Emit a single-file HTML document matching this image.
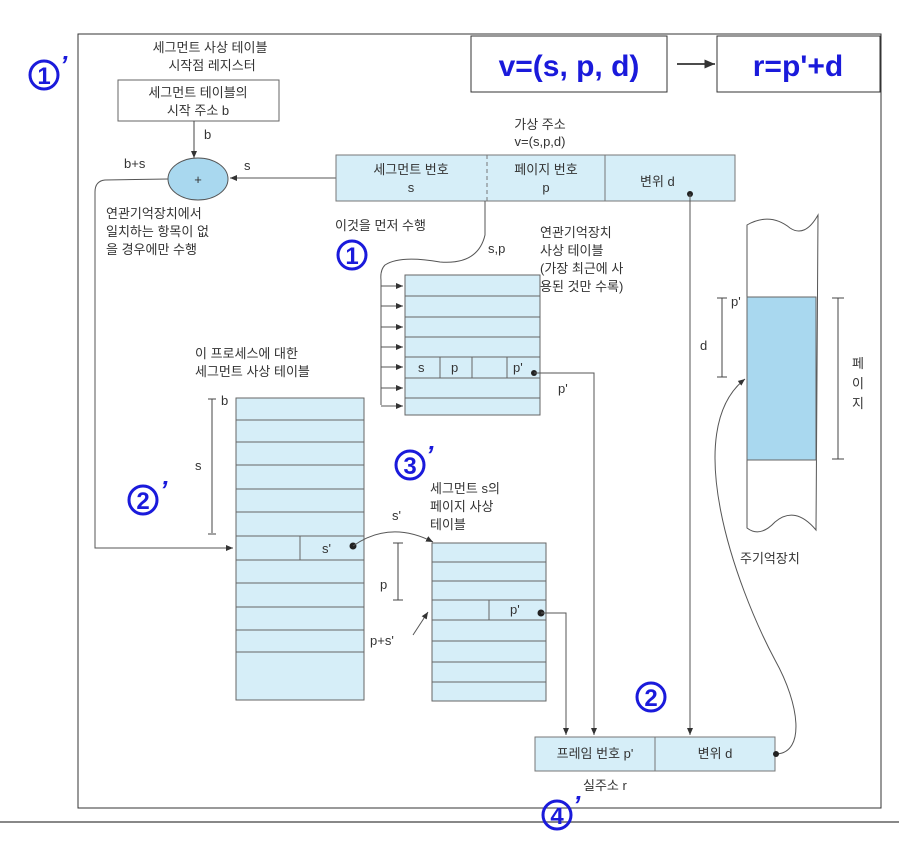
<!DOCTYPE html>
<html><head><meta charset="utf-8"><style>
body{margin:0;background:#fff}
svg{display:block}
text{font-family:"Liberation Sans","Noto Sans CJK KR",sans-serif;fill:#333;font-size:13px}
.b{fill:#1a1adb;font-weight:bold}
.n{fill:none;stroke:#1a1adb;stroke-width:3}
.d{fill:#1a1adb;font-weight:bold;font-size:24px;text-anchor:middle}
.p{fill:#1a1adb;font-weight:bold;font-style:italic;font-size:26px}
</style></head><body>
<svg width="899" height="844" viewBox="0 0 899 844">
<defs><marker id="a" markerWidth="8" markerHeight="8" refX="7" refY="4" orient="auto"><path d="M0,1 L7,4 L0,7z" fill="#333"/></marker></defs>
<rect x="78" y="34" width="803" height="774" fill="none" stroke="#333"/>
<line x1="0" y1="822" x2="899" y2="822" stroke="#888" stroke-width="2"/>
<rect x="471" y="36" width="196" height="56" fill="#fff" stroke="#333"/>
<text x="569" y="76" text-anchor="middle" class="b" style="font-size:30px">v=(s, p, d)</text>
<line x1="677" y1="64" x2="715" y2="64" stroke="#111" stroke-width="1.5" marker-end="url(#a)"/>
<rect x="717" y="36" width="163" height="56" fill="#fff" stroke="#333"/>
<text x="798" y="76" text-anchor="middle" class="b" style="font-size:30px">r=p'+d</text>
<circle cx="44" cy="75" r="14" class="n"/><text x="44" y="84" class="d">1</text><text x="60" y="74" class="p">’</text>
<circle cx="352" cy="255" r="14" class="n"/><text x="352" y="264" class="d">1</text>
<circle cx="143" cy="500" r="14" class="n"/><text x="143" y="509" class="d">2</text><text x="160" y="499" class="p">’</text>
<circle cx="410" cy="465" r="14" class="n"/><text x="410" y="474" class="d">3</text><text x="426" y="464" class="p">’</text>
<circle cx="651" cy="697" r="14" class="n"/><text x="651" y="706" class="d">2</text>
<circle cx="557" cy="815" r="14" class="n"/><text x="557" y="824" class="d">4</text><text x="573" y="814" class="p">’</text>
<text x="210" y="52" text-anchor="middle">세그먼트 사상 테이블</text>
<text x="212" y="70" text-anchor="middle">시작점 레지스터</text>
<rect x="118" y="80" width="161" height="41" fill="#fff" stroke="#666"/>
<text x="198" y="97" text-anchor="middle">세그먼트 테이블의</text>
<text x="198" y="115" text-anchor="middle">시작 주소 b</text>
<line x1="194" y1="121" x2="194" y2="158" stroke="#444" marker-end="url(#a)"/>
<text x="204" y="139">b</text>
<ellipse cx="198" cy="179" rx="30" ry="21" fill="#a9d8ef" stroke="#555"/>
<text x="198" y="184" text-anchor="middle">+</text>
<text x="124" y="168">b+s</text>
<text x="244" y="170">s</text>
<line x1="336" y1="178" x2="230" y2="178" stroke="#555" marker-end="url(#a)"/>
<path d="M168,179 L105,180 Q95,181 95,192 L95,548 L233,548" fill="none" stroke="#555" marker-end="url(#a)"/>
<text x="106" y="218">연관기억장치에서</text>
<text x="106" y="236">일치하는 항목이 없</text>
<text x="106" y="254">을 경우에만 수행</text>
<text x="540" y="129" text-anchor="middle">가상 주소</text>
<text x="540" y="146" text-anchor="middle">v=(s,p,d)</text>
<rect x="336" y="155" width="399" height="46" fill="#d6eef8" stroke="#777"/>
<line x1="487" y1="155" x2="487" y2="201" stroke="#777" stroke-dasharray="4,3"/>
<line x1="605" y1="155" x2="605" y2="201" stroke="#777"/>
<text x="411" y="174" text-anchor="middle">세그먼트 번호</text><text x="411" y="192" text-anchor="middle">s</text>
<text x="546" y="174" text-anchor="middle">페이지 번호</text><text x="546" y="192" text-anchor="middle">p</text>
<text x="640" y="186">변위 d</text>
<text x="335" y="230">이것을 먼저 수행</text>
<path d="M485,201 L485,235 Q478,265 440,262 Q400,255 385,265 Q380,270 381,280 L381,405" fill="none" stroke="#555"/>
<text x="488" y="253">s,p</text>
<text x="540" y="237">연관기억장치</text>
<text x="540" y="255">사상 테이블</text>
<text x="540" y="273">(가장 최근에 사</text>
<text x="540" y="291">용된 것만 수록)</text>
<rect x="405" y="275" width="135" height="140" fill="#d6eef8" stroke="#666"/>
<g stroke="#666"><line x1="405" y1="296" x2="540" y2="296"/><line x1="405" y1="317" x2="540" y2="317"/><line x1="405" y1="337" x2="540" y2="337"/><line x1="405" y1="357" x2="540" y2="357"/><line x1="405" y1="378" x2="540" y2="378"/><line x1="405" y1="398" x2="540" y2="398"/>
<line x1="440" y1="357" x2="440" y2="378"/><line x1="472" y1="357" x2="472" y2="378"/><line x1="507" y1="357" x2="507" y2="378"/></g>
<g stroke="#555" marker-end="url(#a)"><line x1="381" y1="286" x2="403" y2="286"/><line x1="381" y1="306" x2="403" y2="306"/><line x1="381" y1="327" x2="403" y2="327"/><line x1="381" y1="347" x2="403" y2="347"/><line x1="381" y1="367" x2="403" y2="367"/><line x1="381" y1="388" x2="403" y2="388"/><line x1="381" y1="406" x2="403" y2="406"/></g>
<text x="418" y="372">s</text><text x="451" y="372">p</text><text x="513" y="372">p'</text>
<circle cx="534" cy="373" r="3" fill="#222"/>
<path d="M534,373 L594,373 L594,735" fill="none" stroke="#555" marker-end="url(#a)"/>
<text x="558" y="393">p'</text>
<circle cx="690" cy="194" r="3" fill="#222"/>
<line x1="690" y1="194" x2="690" y2="735" stroke="#555" marker-end="url(#a)"/>
<text x="195" y="358">이 프로세스에 대한</text>
<text x="195" y="376">세그먼트 사상 테이블</text>
<rect x="236" y="398" width="128" height="302" fill="#d6eef8" stroke="#666"/>
<g stroke="#666"><line x1="236" y1="420" x2="364" y2="420"/><line x1="236" y1="442" x2="364" y2="442"/><line x1="236" y1="465" x2="364" y2="465"/><line x1="236" y1="489" x2="364" y2="489"/><line x1="236" y1="512" x2="364" y2="512"/><line x1="236" y1="536" x2="364" y2="536"/><line x1="236" y1="560" x2="364" y2="560"/><line x1="236" y1="583" x2="364" y2="583"/><line x1="236" y1="607" x2="364" y2="607"/><line x1="236" y1="630" x2="364" y2="630"/><line x1="236" y1="652" x2="364" y2="652"/><line x1="300" y1="536" x2="300" y2="560"/></g>
<line x1="212" y1="399" x2="212" y2="533" stroke="#444"/><line x1="208" y1="399" x2="216" y2="399" stroke="#444"/><line x1="208" y1="534" x2="216" y2="534" stroke="#444"/>
<text x="221" y="405">b</text><text x="195" y="470">s</text>
<text x="322" y="553">s'</text>
<circle cx="353" cy="546" r="3.5" fill="#222"/>
<path d="M353,546 Q390,520 433,542" fill="none" stroke="#555" marker-end="url(#a)"/>
<text x="392" y="520">s'</text>
<text x="430" y="493">세그먼트 s의</text>
<text x="430" y="511">페이지 사상</text>
<text x="430" y="529">테이블</text>
<rect x="432" y="543" width="114" height="158" fill="#d6eef8" stroke="#666"/>
<g stroke="#666"><line x1="432" y1="562" x2="546" y2="562"/><line x1="432" y1="581" x2="546" y2="581"/><line x1="432" y1="600" x2="546" y2="600"/><line x1="432" y1="620" x2="546" y2="620"/><line x1="432" y1="641" x2="546" y2="641"/><line x1="432" y1="662" x2="546" y2="662"/><line x1="432" y1="682" x2="546" y2="682"/><line x1="489" y1="600" x2="489" y2="620"/></g>
<line x1="398" y1="543" x2="398" y2="600" stroke="#444"/><line x1="393" y1="543" x2="403" y2="543" stroke="#444"/><line x1="393" y1="600" x2="403" y2="600" stroke="#444"/>
<text x="380" y="589">p</text>
<text x="510" y="614">p'</text>
<circle cx="541" cy="613" r="3.5" fill="#222"/>
<path d="M541,613 L566,613 L566,735" fill="none" stroke="#555" marker-end="url(#a)"/>
<line x1="413" y1="635" x2="428" y2="612" stroke="#555" marker-end="url(#a)"/>
<text x="370" y="645">p+s'</text>
<rect x="535" y="737" width="240" height="34" fill="#d6eef8" stroke="#777"/>
<line x1="655" y1="737" x2="655" y2="771" stroke="#777"/>
<text x="595" y="758" text-anchor="middle">프레임 번호 p'</text>
<text x="715" y="758" text-anchor="middle">변위 d</text>
<text x="583" y="790">실주소 r</text>
<!-- memory -->
<path d="M747,225 Q770,212 790,228 Q805,238 818,215 L816,530 Q795,505 775,522 Q760,538 747,528 Z" fill="#fff" stroke="#555"/>
<rect x="747" y="297" width="69" height="163" fill="#a9d8ef" stroke="#666"/>
<line x1="722" y1="298" x2="722" y2="377" stroke="#444"/><line x1="717" y1="298" x2="727" y2="298" stroke="#444"/><line x1="717" y1="377" x2="727" y2="377" stroke="#444"/>
<text x="700" y="350">d</text><text x="731" y="306">p'</text>
<line x1="838" y1="298" x2="838" y2="459" stroke="#444"/><line x1="832" y1="298" x2="844" y2="298" stroke="#444"/><line x1="832" y1="459" x2="844" y2="459" stroke="#444"/>
<text x="852" y="368">페</text><text x="852" y="388">이</text><text x="852" y="408">지</text>
<text x="740" y="563">주기억장치</text>
<path d="M777,754 C805,752 800,705 775,660 C735,585 680,430 745,379" fill="none" stroke="#555" marker-end="url(#a)"/>
<circle cx="776" cy="754" r="3" fill="#222"/>
</svg>
</body></html>
